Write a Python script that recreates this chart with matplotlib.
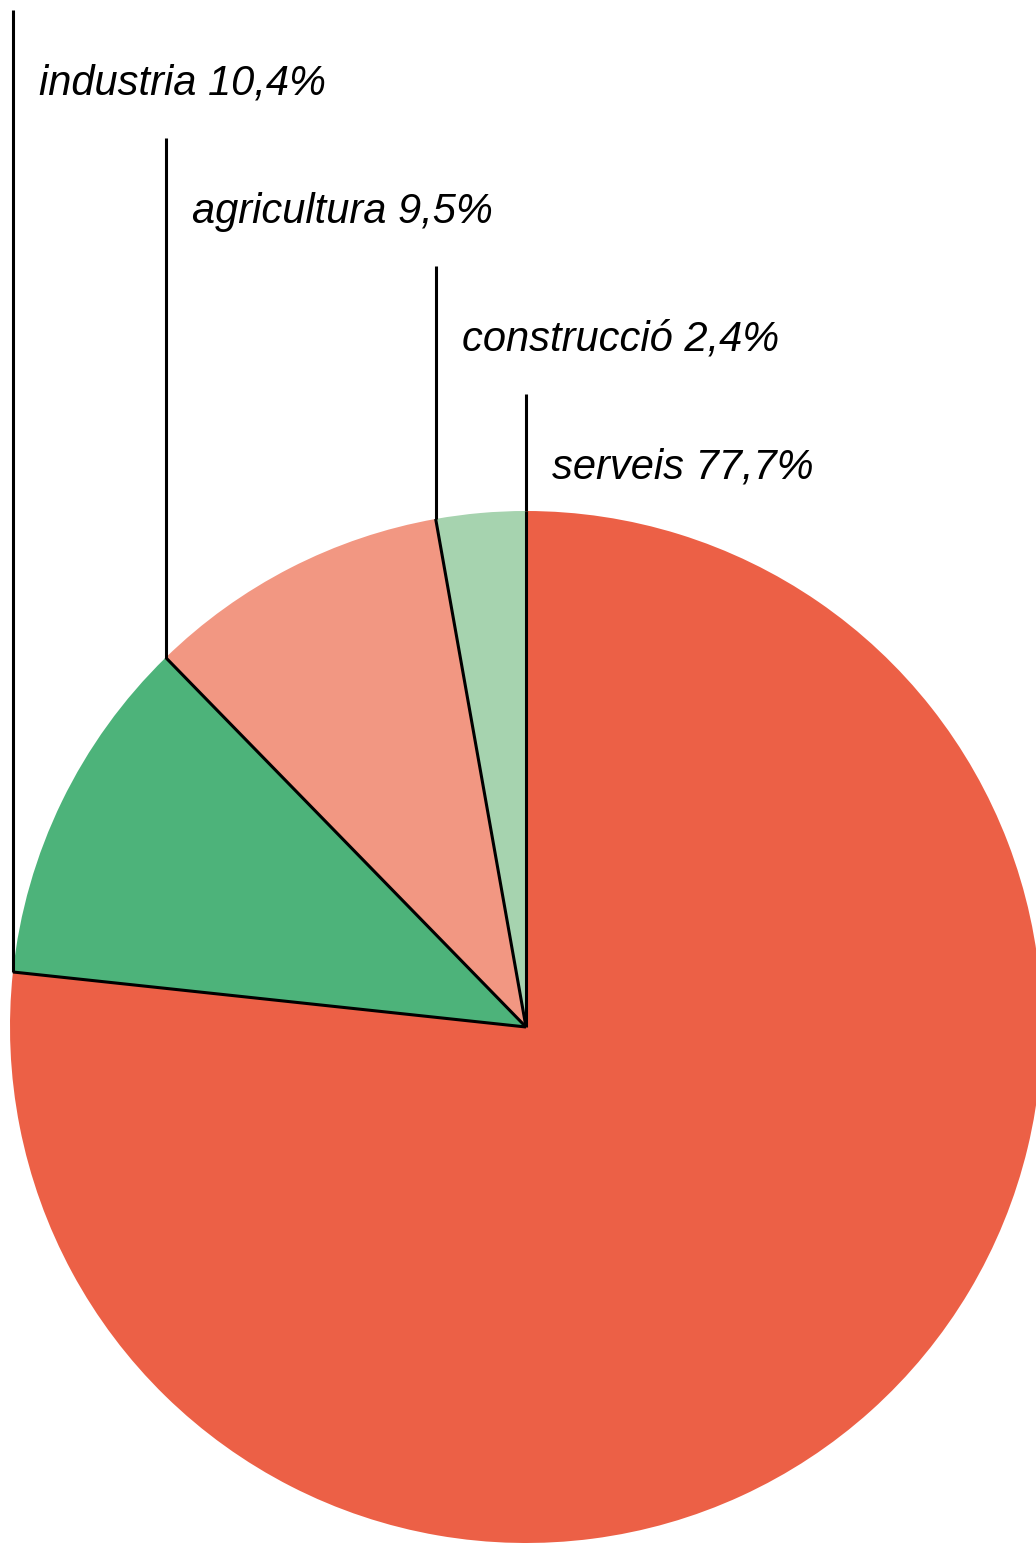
import numpy as np
import matplotlib.pyplot as plt

# доли секторов (по картинке) и подписи
sectors = ['serveis', 'industria', 'agricultura', 'construcció']
shares = [76.7, 11.0, 9.5, 2.8]
labels = ['serveis 77,7%', 'industria 10,4%', 'agricultura 9,5%', 'construcció 2,4%']
colors = ['#EC6046', '#4DB37A', '#F29782', '#A6D3AF']

W, H = 1036, 1543
fig = plt.figure(figsize=(W / 100, H / 100), dpi=100)
ax = fig.add_axes([0, 0, 1, 1])

cx, cy, r = 526, H - 1027, 516
wedges, _ = ax.pie(shares, colors=colors, startangle=90, counterclock=False,
                   center=(cx, cy), radius=r, wedgeprops=dict(linewidth=0))

ax.set_xlim(0, W)
ax.set_ylim(0, H)
ax.set_aspect('auto')
ax.axis('off')

# радиальные линии на границах секторов + выноски вверх
order = [1, 2, 3, 0]  # порядок подписей сверху вниз
for k, i in enumerate(order):
    ang = np.deg2rad(wedges[i].theta2)  # начало сектора (по часовой)
    bx, by = cx + r * np.cos(ang), cy + r * np.sin(ang)
    ax.plot([cx, bx], [cy, by], color='black', lw=2.2, solid_capstyle='butt')
    top = H - (10 + 128 * k)
    ax.plot([bx, bx], [by, top], color='black', lw=2.2, solid_capstyle='butt')
    ax.text(bx + 26, H - (84 + 128 * k), labels[i], fontsize=30, style='italic',
            family='Liberation Sans', va='center', ha='left')

fig.savefig('out.png', dpi=100)
